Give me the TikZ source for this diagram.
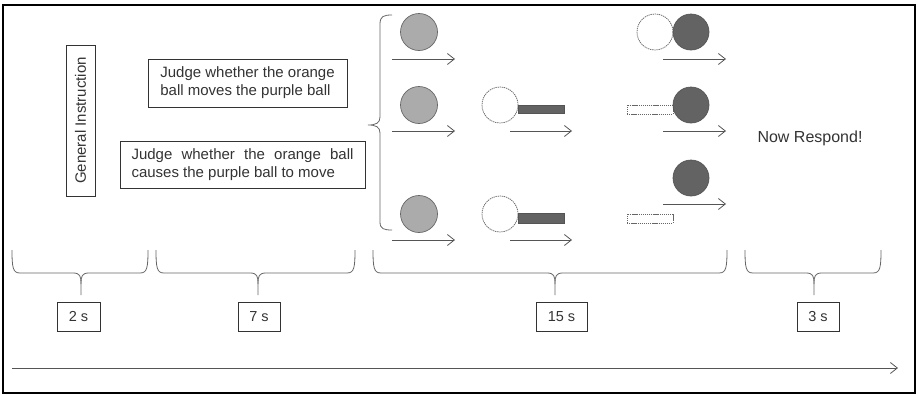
\documentclass[tikz,border=0pt]{standalone}
\usepackage{fontspec}
\setmainfont{Liberation Sans}
\usetikzlibrary{arrows.meta}
\definecolor{txt}{HTML}{333333}
\definecolor{lineg}{HTML}{555555}
\definecolor{lightball}{HTML}{ABABAB}
\definecolor{darkball}{HTML}{636363}
\definecolor{ghostc}{HTML}{666666}
\newcommand{\timebrace}[3]{%
  \draw[brc] (#1,250) .. controls (#1,268) and (#1+1,273) .. (#1+8,273) -- (#2-8,273)
    .. controls (#2-1,273) and (#2,276) .. (#2,284) -- (#2,295);
  \draw[brc] (#2,284) .. controls (#2,276) and (#2+1,273) .. (#2+8,273) -- (#3-8,273)
    .. controls (#3-1,273) and (#3,268) .. (#3,250);}
\begin{document}
\begin{tikzpicture}[x=1pt,y=-1pt,
  lightb/.style={circle, draw=lineg!90, fill=lightball, line width=0.7pt, minimum size=37pt, inner sep=0pt},
  darkb/.style={circle, draw=darkball!85!black, fill=darkball, line width=0.7pt, minimum size=36pt, inner sep=0pt},
  ghostb/.style={circle, draw=ghostc, dash pattern=on 1.3pt off 0.8pt, line width=0.75pt, minimum size=36pt, inner sep=0pt},
  bar/.style={rectangle, draw=darkball!85!black, fill=darkball, line width=0.6pt, minimum width=46pt, inner sep=0pt},
  ghostbar/.style={rectangle, draw=ghostc, dash pattern=on 1.3pt off 0.8pt, line width=0.75pt, minimum width=46pt, minimum height=9pt, inner sep=0pt},
  mv/.style={draw=lineg, line width=0.8pt, -{Straight Barb[length=7pt,width=11pt]}},
  brc/.style={draw=lineg!90, line width=0.8pt},
  instr/.style={draw=txt, line width=0.7pt, text=txt, font=\fontsize{15}{18}\selectfont, inner sep=0pt},
  tbox/.style={draw=txt, line width=0.7pt, text=txt, font=\fontsize{14.5}{17}\selectfont, minimum height=29pt, inner sep=0pt}]
\useasboundingbox (0,0) rectangle (918,394);
\draw[line width=1.5pt] (3,5) rectangle (915,393);

% instructions
\node[instr, rotate=90, minimum width=151pt, minimum height=29pt] (gen) at (80.5,120.5) {General Instruction};
\node[instr, minimum width=199pt, minimum height=48pt, align=left] (j1) at (247.5,83)
  {Judge whether the orange\\ball moves the purple ball};
\node[instr, minimum width=245pt, minimum height=47pt, align=left] (j2) at (242.5,164.5)
  {\hbox to 222pt{Judge whether the orange ball}\\causes the purple ball to move};

% left brace
\draw[brc] (392,15) .. controls (384,15) and (380,16) .. (380,24) -- (380,117)
  .. controls (380,123) and (376,125) .. (368,125)
  .. controls (376,125) and (380,127) .. (380,133) -- (380,222)
  .. controls (380,229) and (384,230) .. (392,230);

% column 1
\node[lightb] (a1) at (419,32) {};
\node[lightb] (a2) at (419,105) {};
\node[lightb] (a3) at (419,214) {};
\coordinate (a1s) at (392,59);  \coordinate (a1e) at (455,59);
\coordinate (a2s) at (392,131); \coordinate (a2e) at (455,131);
\coordinate (a3s) at (392,240); \coordinate (a3e) at (455,240);
\draw[mv] (a1s) -- (a1e);
\draw[mv] (a2s) -- (a2e);
\draw[mv] (a3s) -- (a3e);

% column 2
\node[ghostb] (b2) at (500,105) {};
\node[bar, minimum height=8pt] (bb2) at (541,109) {};
\node[ghostb] (b3) at (500,214) {};
\node[bar, minimum height=10pt] (bb3) at (541,218) {};
\coordinate (b2s) at (510,131); \coordinate (b2e) at (572,131);
\coordinate (b3s) at (510,240); \coordinate (b3e) at (572,240);
\draw[mv] (b2s) -- (b2e);
\draw[mv] (b3s) -- (b3e);

% column 3
\node[ghostb] (c1g) at (655,32) {};
\node[darkb] (c1) at (691,32) {};
\node[ghostbar] (c2g) at (650,109.5) {};
\node[darkb] (c2) at (691,105) {};
\node[darkb] (c3) at (691,178) {};
\node[ghostbar] (c3g) at (650,218.5) {};
\coordinate (c1s) at (663,59);  \coordinate (c1e) at (726,59);
\coordinate (c2s) at (663,131); \coordinate (c2e) at (726,131);
\coordinate (c3s) at (663,204); \coordinate (c3e) at (726,204);
\draw[mv] (c1s) -- (c1e);
\draw[mv] (c2s) -- (c2e);
\draw[mv] (c3s) -- (c3e);

\node[text=txt, font=\fontsize{16}{19}\selectfont] (resp) at (810,138) {Now Respond!};

% time braces
\timebrace{12}{81}{148}
\timebrace{156}{258}{355}
\timebrace{373}{555}{727}
\timebrace{745}{814}{881}

\node[tbox, minimum width=43pt] (t1) at (78.5,316.5) {2 s};
\node[tbox, minimum width=42pt] (t2) at (259,316.5) {7 s};
\node[tbox, minimum width=51pt] (t3) at (561.5,316.5) {15 s};
\node[tbox, minimum width=42pt] (t4) at (818,316.5) {3 s};

% time axis
\coordinate (ts) at (12,368);
\coordinate (te) at (898,368);
\draw[mv] (ts) -- (te);
\end{tikzpicture}
\end{document}
